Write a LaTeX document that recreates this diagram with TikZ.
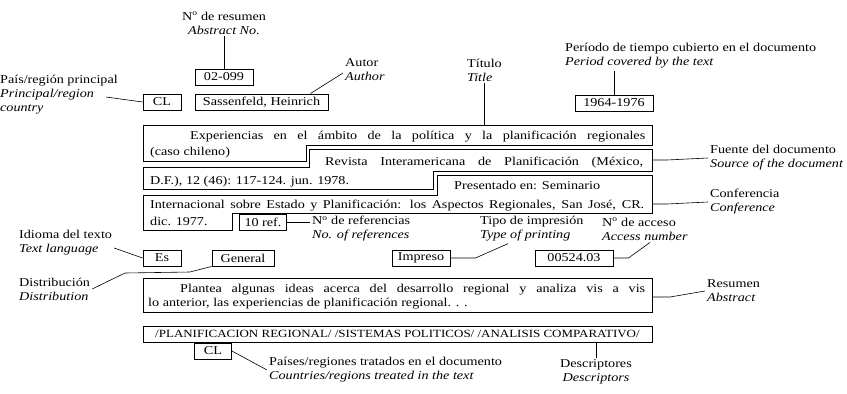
\documentclass[tikz,border=0pt]{standalone}
\usepackage{fontspec}
\setmainfont{Liberation Serif}[FakeStretch=1.18]
\usepackage{tikz}

\begin{document}
\begin{tikzpicture}[x=1pt,y=-1pt,
	font=\fontsize{12}{14}\selectfont,
	box/.style={draw,line width=0.9pt,minimum height=16pt,inner sep=0pt},
	frame/.style={line width=0.9pt},
	lbl/.style={align=left,inner sep=2pt},
	txt/.style={anchor=base west,inner sep=0pt},
	lnk/.style={line width=0.6pt}]
	\useasboundingbox (0,0) rectangle (847,394);

	\node[lbl,align=center] (resumen) at (224,23) {N\textsuperscript{o} de resumen\\\textit{Abstract No.}};
	\node[box,minimum width=58pt] (numres) at (224,77) {02-099};
	\draw[lnk] (resumen) -- (numres);

	\node[lbl,anchor=north west,inner sep=0pt] (pais) at (0,75) {País/región principal\\\textit{Principal/region}\\\textit{country}};
	\coordinate (pais-e) at (106,97);
	\node[box,minimum width=38pt] (cl) at (162,102) {CL};
	\draw[lnk] (pais-e) -- (cl.west);

	\node[box,minimum width=133pt] (autorbox) at (261.5,102) {Sassenfeld, Heinrich};
	\node[lbl,anchor=west] (autor) at (343,70) {Autor\\\textit{Author}};
	\draw[lnk] ([xshift=-18pt]autorbox.north east) -- ([yshift=-3pt]autor.west);

	\coordinate (titletop) at (143,125);
	\node[lbl,anchor=west] (titulo) at (465,70) {Título\\\textit{Title}};
	\draw[lnk] (titulo.south) -- (titulo.south |- titletop);

	\node[lbl,anchor=west] (periodo) at (563,56) {Período de tiempo cubierto en el documento\\\textit{Period covered by the text}};
	\node[box,minimum width=78pt] (periodbox) at (614,103) {1964-1976};
	\draw[lnk] (periodbox.north) -- (periodbox.north |- periodo.south);

	\draw[frame] (titletop) -- (652,125) -- (652,145) -- (306,145) -- (306,161) -- (143,161) -- cycle;
	\node[txt] (tit1) at (190,139) {\makebox[455pt][s]{Experiencias en el ámbito de la política y la planificación regionales}};
	\node[txt] (tit2) at (150,155) {(caso chileno)};

	\draw[frame] (309,149) -- (652,149) -- (652,171) -- (433,171) -- (433,189) -- (143,189) -- (143,167) -- (309,167) -- cycle;
	\node[txt] (src1) at (325,165) {\makebox[318pt][s]{Revista Interamericana de Planificación (México,}};
	\node[txt] (src2) at (150,184) {D.F.), 12 (46): 117-124. jun. 1978.};
	\coordinate (src-e) at (652,160);
	\node[lbl,anchor=west] (fuente) at (708,158) {Fuente del documento\\\textit{Source of the document}};
	\draw[lnk] (src-e) -- ++(15,0) -- (fuente.west);

	\draw[frame] (437,175) -- (652,175) -- (652,213) -- (232,213) -- (232,230) -- (143,230) -- (143,195) -- (437,195) -- cycle;
	\node[txt] (conf1) at (454,189) {Presentado en: Seminario};
	\node[txt] (conf2) at (150,208) {\makebox[494pt][s]{Internacional sobre Estado y Planificación: los Aspectos Regionales, San José, CR.}};
	\node[txt] (conf3) at (150,225) {dic. 1977.};
	\coordinate (conf-e) at (652,204);
	\node[lbl,anchor=west] (confer) at (708,202) {Conferencia\\\textit{Conference}};
	\draw[lnk] (conf-e) -- ++(15,0) -- (confer.west);

	\node[box,minimum width=47pt] (refs) at (263,222) {10 ref.};
	\node[lbl,anchor=west] (nref) at (310,229) {N\textsuperscript{o} de referencias\\\textit{No. of references}};
	\draw[lnk] (refs.east) -- (refs.east -| nref.west);
	\node[lbl,anchor=west] (tipo) at (478,229) {Tipo de impresión\\\textit{Type of printing}};
	\node[lbl,anchor=west] (acceso) at (600,229) {N\textsuperscript{o} de acceso\\\textit{Access number}};

	\node[lbl,anchor=west] (idlbl) at (17,243) {Idioma del texto\\\textit{Text language}};
	\node[box,minimum width=38pt] (idioma) at (162,258) {Es};
	\draw[lnk] ([yshift=-5pt]idlbl.east) -- (idioma.west);
	\node[box,minimum width=62pt] (distr) at (243,258) {General};
	\node[lbl,anchor=west] (dslbl) at (17,289) {Distribución\\\textit{Distribution}};
	\draw[lnk] (dslbl.east) -- (125,273) -- (190,272) -- (distr.south west);
	\node[box,minimum width=58pt] (impreso) at (421,258) {Impreso};
	\draw[lnk] (impreso.east) -- ++(25,0) -- ([xshift=30pt]tipo.south west);
	\node[box,minimum width=78pt] (acc) at (574,258) {00524.03};
	\draw[lnk] (acc.east) -- ++(15,0) -- ([xshift=50pt]acceso.south west);

	\draw[frame] (143,278) rectangle (652,312);
	\node[txt] (abs1) at (180,292) {\makebox[465pt][s]{Plantea algunas ideas acerca del desarrollo regional y analiza vis a vis}};
	\node[txt] (abs2) at (148,306) {lo anterior, las experiencias de planificación regional. . .};
	\coordinate (abs-e) at (652,297);
	\node[lbl,anchor=west] (reslbl) at (705,291) {Resumen\\\textit{Abstract}};
	\draw[lnk] (abs-e) -- ++(18,0) -- (reslbl.west);

	\node[box,minimum width=509pt,font=\fontsize{11}{12}\selectfont] (descr) at (397.5,334) {/PLANIFICACION REGIONAL/ /SISTEMAS POLITICOS/ /ANALISIS COMPARATIVO/};
	\node[lbl,align=center] (dsclbl) at (596,372) {Descriptores\\\textit{Descriptors}};
	\draw[lnk] (descr.south -| dsclbl) -- (dsclbl);

	\node[box,minimum width=37pt] (clb) at (213,351) {CL};
	\node[lbl,anchor=west] (paislbl) at (267,370) {Países/regiones tratados en el documento\\\textit{Countries/regions treated in the text}};
	\draw[lnk] (clb.east) -- (paislbl.west);
\end{tikzpicture}
\end{document}
